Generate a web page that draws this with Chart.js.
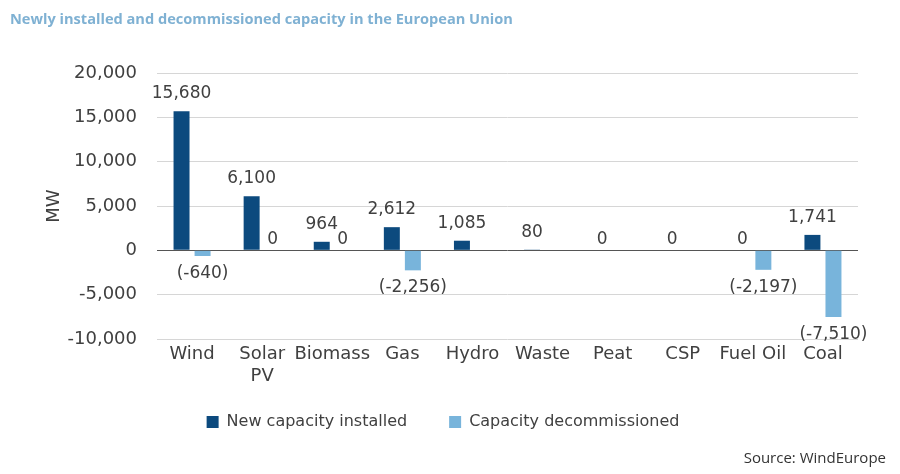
<!DOCTYPE html>
<html>
<head>
<meta charset="utf-8">
<script src="https://cdn.jsdelivr.net/npm/chart.js@4"></script>
<style>
  html, body { margin: 0; padding: 0; background: #fff; }
  #wrap { position: relative; width: 900px; height: 474px; }
  #title { position: absolute; left: 10px; top: 8px; font: bold 14.6px "Open Sans", sans-serif; color: #7fb1d3; white-space: nowrap; }
  #source { position: absolute; right: 14px; top: 447px; font: 15px "Open Sans", sans-serif; color: #333; }
</style>
</head>
<body>
<div id="wrap">
  <canvas id="chart" width="900" height="474"></canvas>
  <div id="title">Newly installed and decommissioned capacity in the European Union</div>
  <div id="source">Source: WindEurope</div>
</div>
<script>
const categories = ["Wind", ["Solar", "PV"], "Biomass", "Gas", "Hydro", "Waste", "Peat", "CSP", "Fuel Oil", "Coal"];
const newInstalled = [15680, 6100, 964, 2612, 1085, 80, 0, 0, 0, 1741];
const decommissioned = [-640, 0, 0, -2256, null, null, null, null, -2197, -7510];
const yTicks = [-10000, -5000, 0, 5000, 10000, 15000, 20000];

const darkBlue = "#0c4a7e";
const lightBlue = "#78b4db";
const textColor = "#404040";
const font = "DejaVu Sans";

// value labels above / below each bar
const valueLabels = {
  id: "valueLabels",
  afterDatasetsDraw(chart) {
    const ctx = chart.ctx;
    ctx.save();
    ctx.font = "17px '" + font + "'";
    ctx.fillStyle = textColor;
    ctx.textAlign = "center";
    chart.data.datasets.forEach((ds, i) => {
      const meta = chart.getDatasetMeta(i);
      meta.data.forEach((bar, j) => {
        const v = ds.data[j];
        if (v === null) return;
        const txt = v < 0 ? "(" + v.toLocaleString("en-US") + ")" : v.toLocaleString("en-US");
        if (v < 0) {
          ctx.textBaseline = "top";
          ctx.fillText(txt, bar.x, bar.y + 9);
        } else {
          ctx.textBaseline = "bottom";
          ctx.fillText(txt, bar.x, bar.y - (v === 0 ? 2 : 9));
        }
      });
    });
    ctx.restore();
  }
};

// move the legend to where the original has it
const legendShift = {
  id: "legendShift",
  afterLayout(chart) {
    const lg = chart.legend;
    lg.left += 14; lg.right += 14;
    lg.top -= 27; lg.bottom -= 27;
  }
};

new Chart(document.getElementById("chart").getContext("2d"), {
  type: "bar",
  data: {
    labels: categories,
    datasets: [
      { label: "New capacity installed", data: newInstalled, backgroundColor: darkBlue },
      { label: "Capacity decommissioned", data: decommissioned, backgroundColor: lightBlue }
    ]
  },
  options: {
    responsive: false,
    animation: false,
    categoryPercentage: 0.6,
    barPercentage: 0.76,
    layout: { padding: { top: 73, left: 0, right: 42, bottom: 7 } },
    plugins: {
      tooltip: { enabled: false },
      legend: {
        position: "bottom",
        labels: {
          color: textColor,
          font: { family: font, size: 16 },
          boxWidth: 12,
          boxHeight: 12,
          padding: 42
        }
      }
    },
    scales: {
      x: {
        grid: { display: false, drawTicks: false },
        border: { display: false },
        afterFit(scale) { scale.height = 60; },
        ticks: { color: textColor, font: { family: font, size: 18 }, padding: 5, maxRotation: 0, autoSkip: false }
      },
      y: {
        min: -10000,
        max: 20000,
        afterBuildTicks(scale) { scale.ticks = yTicks.map(v => ({ value: v })); },
        afterFit(scale) { scale.width = 157; },
        grid: {
          drawTicks: false,
          color: c => (c.tick && c.tick.value === 0 ? "#555555" : "#d6d6d6")
        },
        border: { display: false },
        ticks: {
          color: textColor,
          font: { family: font, size: 18 },
          padding: 20,
          callback: v => v.toLocaleString("en-US")
        },
        title: {
          display: true,
          text: "MW",
          color: textColor,
          font: { family: font, size: 18 },
          padding: { top: 44 }
        }
      }
    }
  },
  plugins: [valueLabels, legendShift]
});
</script>
</body>
</html>
